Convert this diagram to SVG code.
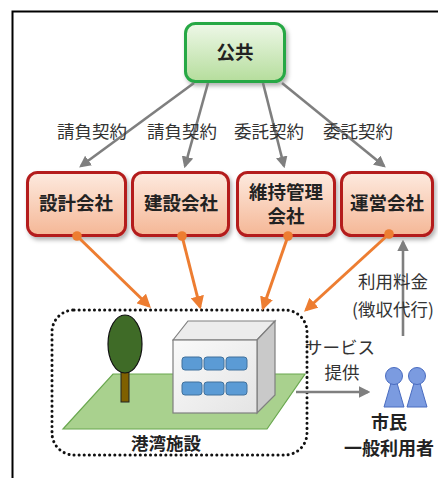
<svg xmlns="http://www.w3.org/2000/svg" width="438" height="478" viewBox="0 0 438 478">
  <defs>
    <linearGradient id="gGreen" x1="0" y1="0" x2="0" y2="1">
      <stop offset="0" stop-color="#eef8e8"/>
      <stop offset="1" stop-color="#b5dd9c"/>
    </linearGradient>
    <linearGradient id="gPeach" x1="0" y1="0" x2="0" y2="1">
      <stop offset="0" stop-color="#fdeadf"/>
      <stop offset="1" stop-color="#f5b796"/>
    </linearGradient>
    <linearGradient id="gFront" x1="0" y1="0" x2="1" y2="1">
      <stop offset="0" stop-color="#fafafa"/>
      <stop offset="1" stop-color="#e4e4e4"/>
    </linearGradient>
    <filter id="shadow" x="-20%" y="-20%" width="150%" height="160%">
      <feDropShadow dx="2" dy="3" stdDeviation="2" flood-color="#000" flood-opacity="0.3"/>
    </filter>
    <marker id="arrGray" viewBox="0 0 10 10" refX="8" refY="5" markerWidth="4.5" markerHeight="4.5" orient="auto">
      <path d="M0,0 L10,5 L0,10 z" fill="#7f7f7f"/>
    </marker>
    <marker id="arrOrange" viewBox="0 0 10 10" refX="8" refY="5" markerWidth="4.5" markerHeight="4.5" orient="auto">
      <path d="M0,0 L10,5 L0,10 z" fill="#ed7d31"/>
    </marker>
    <marker id="dotOrange" viewBox="0 0 10 10" refX="5" refY="5" markerWidth="3.2" markerHeight="3.2">
      <circle cx="5" cy="5" r="5" fill="#ed7d31"/>
    </marker>
  </defs>
  <style>
    text { font-family: "Noto Sans CJK JP", "Noto Sans", sans-serif; fill: #222; }
    .lbl { font-size: 17.5px; text-anchor: middle; fill: #333; }
    .bold { font-size: 18.5px; font-weight: bold; text-anchor: middle; }
    .co { fill: url(#gPeach); stroke: #b41e1e; stroke-width: 3; filter: url(#shadow); }
    .gray { stroke: #7f7f7f; stroke-width: 2.6; fill: none; marker-end: url(#arrGray); }
    .orange { stroke: #ed7d31; stroke-width: 3; fill: none; marker-start: url(#dotOrange); marker-end: url(#arrOrange); }
    .win { fill: #5b9bd5; stroke: #41719c; stroke-width: 1; }
    .person { fill: #7b9be0; stroke: #4a6cc0; stroke-width: 1; }
  </style>

  <rect width="438" height="478" fill="#fff"/>
  <!-- outer frame -->
  <path d="M12.5,478 V11.5 H438" fill="none" stroke="#000" stroke-width="2"/>

  <!-- public authority -->
  <g id="public">
    <rect x="185.5" y="23.5" width="99" height="58" rx="10" fill="url(#gGreen)" stroke="#27a844" stroke-width="3" filter="url(#shadow)"/>
    <text class="bold" x="235" y="59">公共</text>
  </g>

  <g id="design">
    <rect class="co" x="27.5" y="172.5" width="98" height="63" rx="10"/>
    <text class="bold" x="76" y="210">設計会社</text>
  </g>
  <g id="construction">
    <rect class="co" x="132.5" y="172.5" width="96" height="63" rx="10"/>
    <text class="bold" x="181" y="210">建設会社</text>
  </g>
  <g id="maintenance">
    <rect class="co" x="237.5" y="172.5" width="97" height="63" rx="10"/>
    <text class="bold" x="286" y="199">維持管理</text>
    <text class="bold" x="286" y="223">会社</text>
  </g>
  <g id="operation">
    <rect class="co" x="341.5" y="172.5" width="91" height="63" rx="10"/>
    <text class="bold" x="387" y="210">運営会社</text>
  </g>

  <!-- port facility -->
  <g id="port">
    <rect x="52" y="310" width="255" height="145" rx="22" fill="none" stroke="#111" stroke-width="3" stroke-dasharray="0.1 5" stroke-linecap="round"/>
    <polygon points="63,429 267,429 305,374 113,374" fill="#a9d18e" stroke="#6aa84f" stroke-width="1.2"/>
    <rect x="121" y="372" width="8" height="30" fill="#7f6000" stroke="#222" stroke-width="1"/>
    <ellipse cx="125" cy="344" rx="17" ry="29" fill="#3f6b27" stroke="#111" stroke-width="1.2"/>
    <polygon points="173,340 188,321 275,321 257,340" fill="#ececec" stroke="#7f7f7f" stroke-width="1.2"/>
    <polygon points="257,340 275,321 275,395 257,413" fill="#c9c9c9" stroke="#7f7f7f" stroke-width="1.2"/>
    <rect x="173" y="340" width="84" height="73" fill="url(#gFront)" stroke="#7f7f7f" stroke-width="1.2"/>
    <rect class="win" x="182" y="357" width="20" height="13" rx="3"/>
    <rect class="win" x="204" y="357" width="20" height="13" rx="3"/>
    <rect class="win" x="226" y="357" width="21" height="13" rx="3"/>
    <rect class="win" x="182" y="382" width="20" height="13" rx="3"/>
    <rect class="win" x="204" y="382" width="20" height="13" rx="3"/>
    <rect class="win" x="226" y="382" width="21" height="13" rx="3"/>
    <text class="bold" x="166" y="450" style="font-size:17.5px">港湾施設</text>
  </g>

  <!-- citizens -->
  <g id="citizens">
    <polygon class="person" points="384,407 404,407 397,383 391,383"/>
    <circle class="person" cx="394" cy="376" r="8.5"/>
    <polygon class="person" points="407,407 427,407 420,383 414,383"/>
    <circle class="person" cx="417" cy="376" r="8.5"/>
    <text class="bold" x="389" y="429" style="font-size:18px">市民</text>
    <text class="bold" x="389" y="455" style="font-size:18px">一般利用者</text>
  </g>

  <!-- connectors -->
  <g id="connectors">
    <line class="gray" x1="194" y1="83" x2="81" y2="166"/>
    <line class="gray" x1="208" y1="83" x2="185" y2="166"/>
    <line class="gray" x1="263" y1="83" x2="284" y2="166"/>
    <line class="gray" x1="282" y1="83" x2="384" y2="166"/>
    <line class="orange" x1="77" y1="236" x2="149" y2="306"/>
    <line class="orange" x1="182" y1="236" x2="200" y2="307"/>
    <line class="orange" x1="288" y1="236" x2="263" y2="308"/>
    <line class="orange" x1="389" y1="234" x2="306" y2="310"/>
    <line class="gray" x1="403" y1="336" x2="403" y2="242"/>
    <line class="gray" x1="296" y1="392" x2="368" y2="392"/>
  </g>

  <!-- connector labels -->
  <g id="labels">
    <text class="lbl" x="92" y="138">請負契約</text>
    <text class="lbl" x="182" y="138">請負契約</text>
    <text class="lbl" x="269" y="138">委託契約</text>
    <text class="lbl" x="358" y="138">委託契約</text>
    <text class="lbl" x="393" y="288">利用料金</text>
    <text class="lbl" x="393" y="316">(徴収代行)</text>
    <text class="lbl" x="340" y="354">サービス</text>
    <text class="lbl" x="342" y="379">提供</text>
  </g>
</svg>
